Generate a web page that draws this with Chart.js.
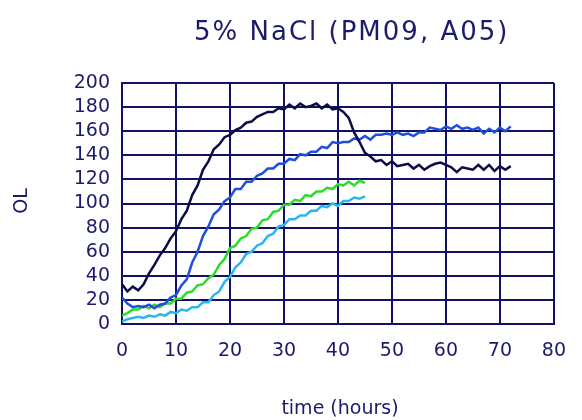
<!DOCTYPE html>
<html>
<head>
<meta charset="utf-8">
<script src="https://cdn.jsdelivr.net/npm/chart.js@4"></script>
<style>
  html, body { margin: 0; padding: 0; background: #fff; }
  #wrap { width: 582px; height: 420px; }
</style>
</head>
<body>
<div id="wrap"><canvas id="growthChart" width="582" height="420"></canvas></div>
<script>
// Time points (hours)
const hoursLong = [0,1,2,3,4,5,6,7,8,9,10,11,12,13,14,15,16,17,18,19,20,21,22,23,24,25,26,27,28,29,30,31,32,33,34,35,36,
  37,38,39,40,41,42,43,44,45,46,47,48,49,50,51,52,53,54,55,56,57,58,59,60,61,62,63,64,65,66,67,68,69,70,71,72];
const hoursShort = [0,1,2,3,4,5,6,7,8,9,10,11,12,13,14,15,16,17,18,19,20,21,22,23,24,25,26,27,28,29,30,31,32,33,34,35,36,
  37,38,39,40,41,42,43,44,45];

// Series values (OL)
const navyValues = [33,27,31,28,33,42,49,57,63,71,77,87,94,107,115,128,135,145,149,155,157,161,163,167,168,172,174,176,176,179,
  178,182,179,183,180,181,183,179,182,178,179,176,171,159,151,142,139,135,136,132,135,131,132,133,129,132,128,131,133,134,
  132,130,126,130,129,128,132,128,132,127,131,128,131];
const blueValues = [22,17,14,15,14,16,13,16,17,22,24,32,37,51,60,73,81,91,95,102,105,112,112,118,118,123,125,129,129,133,
  133,137,136,141,140,143,143,147,146,151,150,151,151,154,153,156,153,157,157,158,157,159,157,158,156,159,159,163,162,161,
  164,162,165,162,163,161,163,158,162,159,163,160,164];
const greenValues = [7,9,12,12,15,13,16,14,17,17,21,21,26,27,32,33,38,41,49,54,63,65,71,73,79,80,86,87,93,94,99,99,103,102,
  107,106,110,110,113,112,116,115,118,115,119,117];
const cyanValues = [2,4,5,6,5,7,6,8,7,10,9,12,11,14,14,18,18,24,27,35,39,47,51,58,60,65,67,73,75,81,82,87,87,90,90,94,94,98,
  97,100,98,102,102,105,104,106];

const xTicks = [0,10,20,30,40,50,60,70,80];
const yTicks = [0,20,40,60,80,100,120,140,160,180,200];

const titleText = '5% NaCl (PM09, A05)';
const xTitle = 'time (hours)';
const yTitle = 'OL';

const textColor = '#1b1b6b';
const gridColor = '#11116a';

function toPoints(xs, ys) {
  return xs.map((x, i) => ({ x: x, y: ys[i] }));
}

// Draws chart title and axis titles at fixed spots
const labelsPlugin = {
  id: 'labels',
  afterDraw(chart) {
    const ctx = chart.ctx;
    ctx.save();
    ctx.fillStyle = textColor;
    ctx.textBaseline = 'middle';
    ctx.textAlign = 'left';
    ctx.font = '26px "DejaVu Sans"';
    ctx.letterSpacing = '2px';
    ctx.fillText(titleText, 194, 33);
    ctx.letterSpacing = '0px';
    ctx.textAlign = 'center';
    ctx.font = '19px "DejaVu Sans"';
    ctx.fillText(xTitle, 340, 409);
    ctx.translate(22, 201);
    ctx.rotate(-Math.PI / 2);
    ctx.fillText(yTitle, 0, 0);
    ctx.restore();
  }
};

const ctx = document.getElementById('growthChart').getContext('2d');
new Chart(ctx, {
  type: 'line',
  data: {
    datasets: [
      { data: toPoints(hoursLong, navyValues), borderColor: '#0c0c48' },
      { data: toPoints(hoursLong, blueValues), borderColor: '#1f4fdc' },
      { data: toPoints(hoursShort, greenValues), borderColor: '#2bdc2b' },
      { data: toPoints(hoursShort, cyanValues), borderColor: '#2bb6f0' }
    ]
  },
  options: {
    responsive: false,
    animation: false,
    layout: { padding: { top: 83, right: 10, left: 0, bottom: 0 } },
    elements: {
      line: { borderWidth: 2.5, tension: 0, fill: false },
      point: { radius: 0 }
    },
    plugins: {
      legend: { display: false },
      title: { display: false },
      tooltip: { enabled: false }
    },
    scales: {
      x: {
        type: 'linear',
        min: 0,
        max: 80,
        afterBuildTicks: axis => { axis.ticks = xTicks.map(v => ({ value: v })); },
        afterFit: axis => { axis.height = 96; },
        grid: { color: gridColor, lineWidth: 2, drawTicks: false },
        border: { color: gridColor, width: 2 },
        ticks: {
          color: textColor,
          padding: 16,
          maxRotation: 0,
          autoSkip: false,
          font: { family: 'DejaVu Sans', size: 19 }
        }
      },
      y: {
        min: 0,
        max: 200,
        afterBuildTicks: axis => { axis.ticks = yTicks.map(v => ({ value: v })); },
        afterFit: axis => { axis.width = 122; },
        grid: { color: gridColor, lineWidth: 2, drawTicks: false },
        border: { color: gridColor, width: 2 },
        ticks: {
          color: textColor,
          padding: 12,
          autoSkip: false,
          font: { family: 'DejaVu Sans', size: 19 }
        }
      }
    }
  },
  plugins: [labelsPlugin]
});
</script>
</body>
</html>
